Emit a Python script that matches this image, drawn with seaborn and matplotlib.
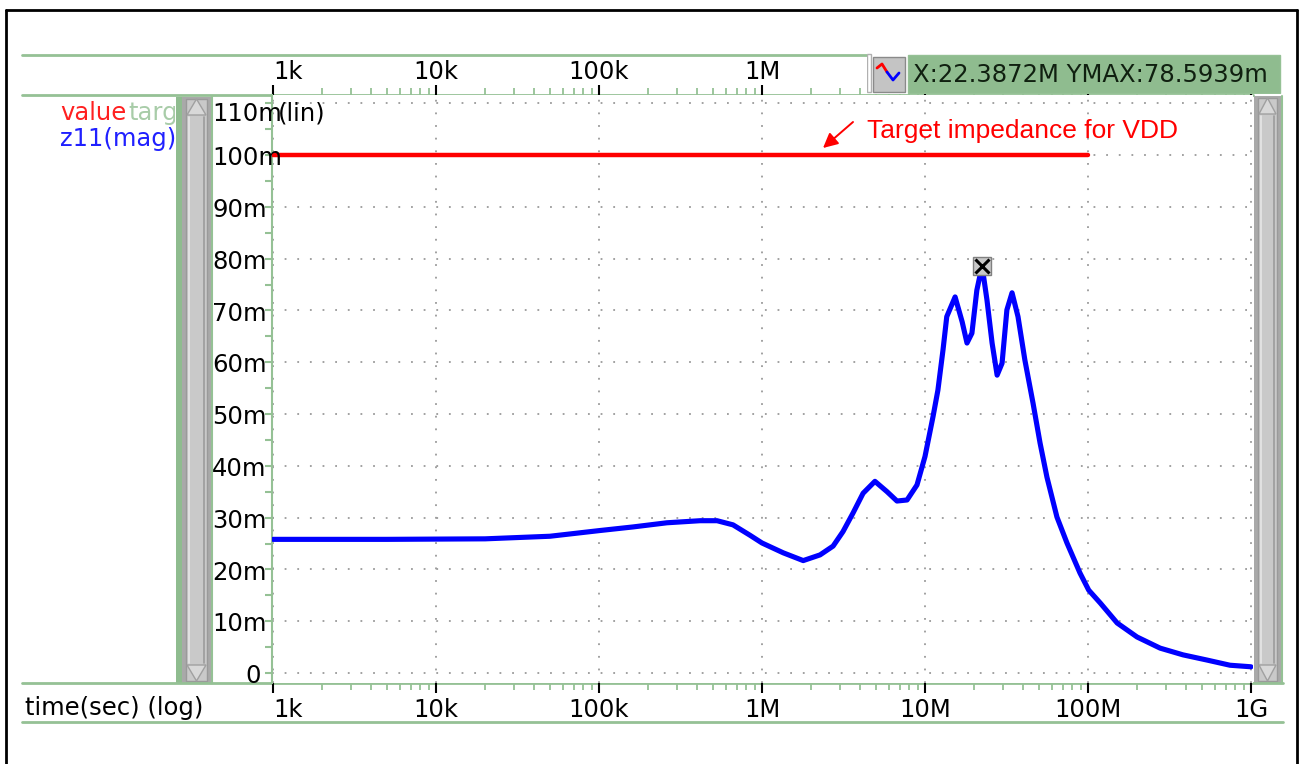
import numpy as np
import pandas as pd
import matplotlib
matplotlib.use("Agg")
import matplotlib.pyplot as plt
import matplotlib.transforms as mtrans
from matplotlib.patches import Rectangle, Polygon
from matplotlib.lines import Line2D
import seaborn as sns

# ---------------- data ----------------
freq_hz = [1e3, 5e3, 2e4, 5e4, 1.01e5, 1.62e5, 2.61e5, 4.17e5, 5.3e5, 6.64e5,
           8.43e5, 1.0e6, 1.35e6, 1.79e6, 2.27e6, 2.73e6, 3.14e6, 3.62e6, 4.17e6,
           4.93e6, 5.85e6, 6.73e6, 7.76e6, 8.93e6, 1.0e7, 1.12e7, 1.2e7, 1.29e7,
           1.36e7, 1.53e7, 1.69e7, 1.81e7, 1.94e7, 2.08e7, 2.23872e7, 2.4e7, 2.58e7,
           2.77e7, 2.97e7, 3.18e7, 3.42e7, 3.72e7, 4.1e7, 4.6e7, 5.08e7, 5.6e7,
           6.45e7, 7.43e7, 8.93e7, 1.01e8, 1.19e8, 1.51e8, 2.0e8, 2.77e8, 3.83e8,
           5.37e8, 7.43e8, 1.0e9]
z11_mohm = [25.8, 25.8, 25.9, 26.4, 27.5, 28.2, 29.0, 29.4, 29.4, 28.6,
            26.6, 25.1, 23.2, 21.7, 22.8, 24.5, 27.3, 30.9, 34.7,
            37.0, 35.0, 33.2, 33.4, 36.3, 41.8, 49.5, 54.6, 62.4,
            68.8, 72.6, 67.8, 63.7, 65.6, 73.9, 78.5939, 72.0, 63.7,
            57.5, 59.8, 70.1, 73.4, 68.8, 60.4, 52.1, 44.4, 37.8,
            30.1, 25.1, 19.3, 16.0, 13.5, 9.65, 6.95, 4.8, 3.5,
            2.5, 1.5, 1.2]
target_freq_hz = [1e3, 1e8]
target_mohm = [100, 100]

x_ticks = [1e3, 1e4, 1e5, 1e6, 1e7, 1e8, 1e9]
x_tick_labels = ["1k", "10k", "100k", "1M", "10M", "100M", "1G"]
y_ticks = [0, 10, 20, 30, 40, 50, 60, 70, 80, 90, 100, 110]
y_tick_labels = ["0", "10m", "20m", "30m", "40m", "50m", "60m", "70m", "80m",
                 "90m", "100m", "110m"]
peak_freq = 22.3872e6
peak_val = 78.5939
cursor_text = "X:22.3872M YMAX:78.5939m"
annotation_text = "Target impedance for VDD"
x_axis_title = "time(sec) (log)"
y_scale_note = "(lin)"

df = pd.DataFrame({"freq": freq_hz, "z11": z11_mohm})
df_t = pd.DataFrame({"freq": target_freq_hz, "z": target_mohm})

# ---------------- style ----------------
sns.set_theme(style="white")
plt.rcParams["font.family"] = ["DejaVu Sans"]
FS = 17.5
GREEN = "#8fbc8f"
GREEN_LINE = "#95c195"

W, H = 1302, 764
fig = plt.figure(figsize=(W / 100, H / 100), dpi=100)
fig.patch.set_facecolor("white")


def fr(x0, y0, x1, y1):
    return [x0 / W, 1 - y1 / H, (x1 - x0) / W, (y1 - y0) / H]


# decoration layer in pixel coordinates
deco = fig.add_axes([0, 0, 1, 1])
deco.set_xlim(0, W)
deco.set_ylim(H, 0)
deco.axis("off")

# main plot axes
ax = fig.add_axes(fr(272, 95, 1253, 683))
ax.set_facecolor("white")

sns.lineplot(data=df_t, x="freq", y="z", ax=ax, color="#ff0000", lw=3.2,
             zorder=3, estimator=None, sort=False)
sns.lineplot(data=df, x="freq", y="z11", ax=ax, color="#0000ff", lw=3.7,
             zorder=4, estimator=None, sort=False)

ax.set_xscale("log")
px_dec = 163.0
ax.set_xlim(10 ** (3 - 1 / px_dec), 10 ** (3 + 980 / px_dec))
ax.set_ylim((673 - 683) / 5.18, (673 - 95) / 5.18)
ax.set_xlabel("")
ax.set_ylabel("")

ax.set_xticks(x_ticks)
ax.set_xticklabels(x_tick_labels)
ax.set_yticks(y_ticks)
ax.set_yticklabels([])
ax.set_yticks(np.arange(5, 111, 10), minor=True)
ax.grid(True, which="major", color="#9a9a9a", linestyle=(0, (1, 6)), lw=1.3)
ax.grid(False, which="minor")

for s in ["top", "bottom", "right"]:
    ax.spines[s].set_visible(False)
ax.spines["left"].set_color(GREEN_LINE)
ax.spines["left"].set_linewidth(1.5)

ax.tick_params(axis="x", which="major", direction="out", length=7, width=1.5,
               color="black", labelsize=FS, labelcolor="black",
               top=True, bottom=True, labeltop=True, labelbottom=True, pad=4)
ax.tick_params(axis="x", which="minor", direction="out", length=5, width=1.3,
               color=GREEN_LINE, top=True, bottom=True)
ax.tick_params(axis="y", which="both", direction="out", length=5, width=1.5,
               color=GREEN_LINE, left=True, right=False)
major_ticks = ax.xaxis.get_major_ticks()
major_ticks[0].label1.set_horizontalalignment("left")
major_ticks[0].label2.set_horizontalalignment("left")
for t, xv in zip(major_ticks, x_ticks):
    t.label2.set_transform(t.label2.get_transform() +
                           mtrans.ScaledTranslation(0, -4 / 100,
                                                    fig.dpi_scale_trans))
    if xv > 1e6:  # hidden behind the cursor readout box in the reference
        t.label2.set_visible(False)

# y tick labels (left aligned, like the waveform viewer)
bt = mtrans.blended_transform_factory(deco.transData, ax.transData)
for v, lab in zip(y_ticks, y_tick_labels):
    x0 = 245 if lab == "0" else 212
    yy = v - 0.6 if v < 110 else v - 2.0
    ax.text(x0, yy, lab, transform=bt, ha="left", va="center", fontsize=FS,
            color="black", clip_on=False, zorder=6)

ax.text(278, (673 - 113) / 5.18, y_scale_note, transform=bt, ha="left",
        va="center", fontsize=FS, color="black", zorder=6)

# peak marker
ax.plot([peak_freq], [peak_val], marker="s", ms=13, mfc="#c8c8c8",
        mec="#808080", mew=1, zorder=6)
ax.plot([peak_freq], [peak_val], marker="x", ms=10, mec="black", mew=2.2,
        zorder=7)

# annotation
tail = (10 ** (3 + 580 / px_dec), (673 - 122) / 5.18)
head = (10 ** (3 + 550 / px_dec), (673 - 148) / 5.18)
ax.annotate("", xy=head, xytext=tail,
            arrowprops=dict(arrowstyle="-|>", color="#ff0000", lw=1.4,
                            mutation_scale=22, shrinkA=0, shrinkB=0),
            zorder=6)
ax.text(10 ** (3 + 594 / px_dec), (673 - 131) / 5.18, annotation_text,
        fontsize=19, color="#ff0000", family=["Liberation Sans"],
        ha="left", va="center", zorder=6)

# ---------------- decorations ----------------
deco.add_line(Line2D([6, 6], [10, 764], color="black", lw=2))
deco.add_line(Line2D([6, 1297], [10, 10], color="black", lw=2))
deco.add_line(Line2D([1297, 1297], [10, 764], color="black", lw=2))

deco.add_line(Line2D([22, 870], [55, 55], color=GREEN_LINE, lw=2))
deco.add_line(Line2D([22, 1253], [95, 95], color=GREEN_LINE, lw=2))
deco.add_line(Line2D([22, 1283], [683, 683], color=GREEN_LINE, lw=2))
deco.add_line(Line2D([22, 1283], [722, 722], color=GREEN_LINE, lw=2))

deco.text(25, 708, x_axis_title, fontsize=FS, ha="left", va="center",
          color="black")


def scrollbar(x0, x1, y0, y1):
    deco.add_patch(Rectangle((x0, y0), x1 - x0, y1 - y0, fc="#a9a9a9",
                             ec="none"))
    ix0, ix1 = x0 + 4, x1 - 4
    deco.add_patch(Rectangle((ix0, y0 + 2), ix1 - ix0, y1 - y0 - 4,
                             fc="#c9c9c9", ec="#9a9a9a", lw=1))
    deco.add_line(Line2D([ix0 + 3, ix0 + 3], [y0 + 20, y1 - 20],
                         color="#e6e6e6", lw=1.2))
    deco.add_line(Line2D([ix1 - 3, ix1 - 3], [y0 + 20, y1 - 20],
                         color="#9c9c9c", lw=1.2))
    cx = (ix0 + ix1) / 2
    deco.add_patch(Polygon([[ix0 + 1, y0 + 18], [ix1 - 1, y0 + 18],
                            [cx, y0 + 2]], closed=True, fc="#d8d8d8",
                           ec="#a0a0a0", lw=1))
    deco.add_patch(Polygon([[ix0 + 1, y1 - 18], [ix1 - 1, y1 - 18],
                            [cx, y1 - 2]], closed=True, fc="#d8d8d8",
                           ec="#a0a0a0", lw=1))


deco.add_patch(Rectangle((176, 97), 6, 586, fc=GREEN, ec="none"))
scrollbar(182, 211, 97, 683)
deco.add_line(Line2D([211.5, 211.5], [97, 683], color=GREEN_LINE, lw=1.5))
scrollbar(1254, 1281, 96, 683)
deco.add_line(Line2D([1281.5, 1281.5], [96, 683], color=GREEN_LINE, lw=1.5))

# cursor readout box: on top of the main axes so it hides the top ticks
top = fig.add_axes(fr(867, 52, 1283, 94))
top.set_xlim(867, 1283)
top.set_ylim(94, 52)
top.axis("off")
top.add_patch(Rectangle((867, 52), 416, 42, fc="white", ec="none"))
top.add_patch(Rectangle((867, 54), 4, 38, fc="white", ec="#b0b0b0", lw=1))
top.add_patch(Rectangle((873, 57), 32, 35, fc="#c4c4c4", ec="#8a8a8a", lw=1))
top.add_line(Line2D([877, 882, 887], [68, 64, 72], color="#ff0000", lw=2))
top.add_line(Line2D([887, 893, 899], [72, 80, 73], color="#0000ff", lw=2))
top.add_patch(Rectangle((908, 55), 372, 38, fc=GREEN, ec=GREEN_LINE, lw=1))
top.text(913, 75, cursor_text, fontsize=FS, ha="left", va="center",
         color="#102010")

# legend area (clipped names)
leg = fig.add_axes(fr(22, 97, 175, 683))
leg.set_xlim(22, 175)
leg.set_ylim(683, 97)
leg.axis("off")
leg.text(60, 113, "value", fontsize=FS, color="#ff2020", ha="left",
         va="center", clip_on=True)
leg.text(128, 113, "target", fontsize=FS, color="#a8cca8", ha="left",
         va="center", clip_on=True)
leg.text(60, 139, "z11(mag)", fontsize=FS, color="#2020ff", ha="left",
         va="center", clip_on=True)

fig.savefig("out.png", dpi=100)
